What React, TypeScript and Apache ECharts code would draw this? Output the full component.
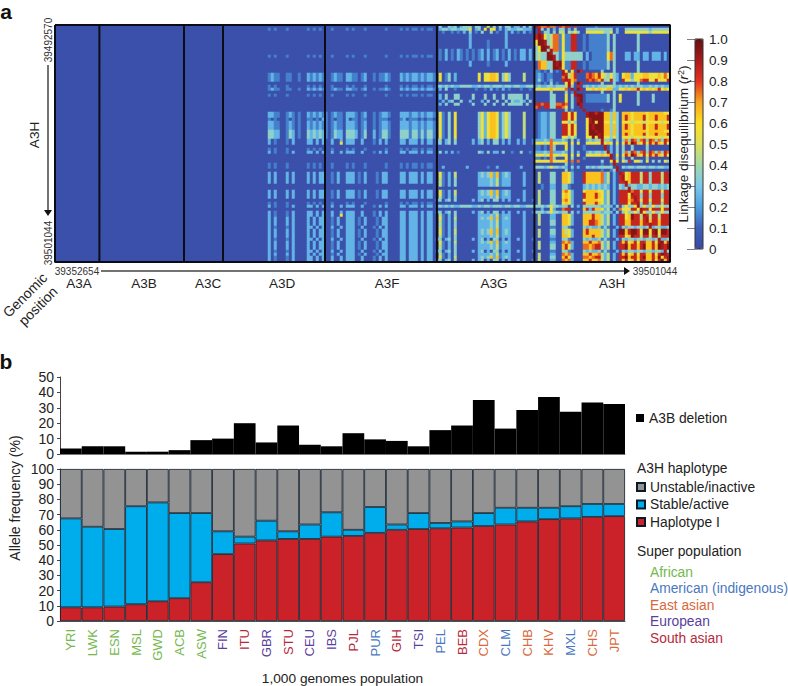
import React, { useEffect, useRef } from "react";
import * as echarts from "echarts";

const FONT = "'Liberation Sans', Arial, sans-serif";

// ---------- Panel a: LD heat map ----------
const LEFT_COLS = 70; // columns of A3A, A3B, A3C and the start of A3D, all near zero
const ROW_COUNT = 79;
const dLen = 57;
const gLen = 33;
const hLen = 45;

// cell codes: "." is near zero, a digit d is the class d/10 .. (d+1)/10
const dParts: Record<string, string> = {
  dz: "",
  dt: ".1.1. ..1.. ....1 .1.1. ..1.. ..1.1 ...1. ..... 1.... 1.1.1 1.1.1 1.",
  dw: ".1211 ..11. .1..2 12121 ..121 1.221 1.12. .1.11 21... 21212 21212 21",
  ds: ".2211 ..121 .1..2 12121 1.121 1.222 1.12. .1.12 21... 22212 21212 21",
  ds2: ".1.1. ..1.1 .1..1 1.1.2 1.1.1 1.2.1 1.11. .1.11 1.... 12.11 1.1.1 1.",
  db: ".3322 ..132 .1..3 23232 1.132 2.333 2.13. .2.13 31... 33313 31313 31",
  dp: ".2.1. ..1.2 ....2 2.2.2 ..2.. 2.222 ..2.. .1.2. 2.... 22.22 2.2.2 2.",
  dy: ".2.1. ..1.2 ....2 2.2.2 ..2.. 5.222 ..2.. .1.2. 2.... 22.22 2.2.2 2.",
  dl: ".2.2. ..2.2 ....2 .2.22 ..1.2 ..222 .1.2. ..1.2 2.... 22.22 2.2.2 2.",
};
const gParts: Record<string, string> = {
  gz: "",
  gt0: ".3..3 23.23 33.33 ..5.3 .3.33 .22.3 .3.",
  gt1: ".2332 33233 35.23 .5.55 .2.23 22332 22.",
  gt2: "..1.. 1.1.2 .3.1. 3..3. 1..2. 2.1.2 .1.",
  gc: "..... ..... .2... ..... ...2. ..... ...",
  gc2: "..... ..... .2... ..1.. ...2. ..... ...",
  gf: ".1.2. 1.21. 1.1.1 2.2.1 2.1.2 .1.22 .2.",
  gy: ".5.13 .2... ....5 .5566 5.353 ....4 ...",
  gh: "23232 32233 33223 23323 33233 23322 333",
  gz2: ".2.3. .1... ...1. .1.2. 1.2.1 ...1. .1.",
  gb: ".2.3. .33.. ..3.. .3..3 ..3.3 3333. 3..",
  gb2: "..2.2 3..3. .2... 2.3.. 3..3. 32232 .3.",
  gs: ".51.3 .5... ....3 52566 51353 ....4 ...",
  gp: "23.23 .3... ..2.2 3.2.3 3.2.2 ..2.2 ..1",
  gp2: ".3.2. 2.1.. ....3 2.3.2 2.3.. 1..3. .1.",
  gq: "..2.. ..... 2.... ..1.. 2.... ...2. ...",
  gl: ".51.2 .4... ....2 32362 61232 ....2 ...",
  gm: ".41.2 .3... ....2 22232 41222 ....2 ...",
};
const hParts: Record<string, string> = {
  h0: "88778 77.87 88.8. ..... 1.... ..... ..... ..... .....",
  hp: "..3.3 .2.33 .2.3. ..333 33333 3.2.. 33333 33323 33333",
  hy: ".3.33 .3.44 .4353 ..555 55533 5.2.. 55555 55535 55555",
  a1: "89853 47715 1188. .1.11 11113 .3... ....3 ..... .....",
  a2: "59983 47715 1188. .1.11 11113 .3... ....3 ..... .....",
  a3: "35993 47715 1188. .1.11 11113 .3... ....3 ..... .....",
  c: "34339 93315 33333 3.2.1 11115 73... 22.22 .22.2 22.2.",
  d1: ".7663 39995 1188. .1.11 11113 .3... ....3 ..... .....",
  b1: "11.1. 3.1.. 5.5.9 8.... ..3.. .3... ....3 ..... .....",
  e1: "121.1 1...7 8468. ..787 68543 532.5 66255 56655 56575",
  e2: "131.1 2...8 7867. ..878 76834 832.8 55355 78855 85558",
  f1: "23223 32333 4.3.8 .2323 23334 43232 32323 32232 32322",
  f2: "55555 65555 7.5.9 8.556 56556 62255 65668 56565 68565",
  b2: "..... 3.... 3.1.. ..... ..3.. .3... ....3 ..... .....",
  g1: "..... 33... 5.3.9 9.111 11113 .3.5. ....3 ....3 .....",
  g2: "88788 33778 7.3.9 9.... ..... .3... ....3 ..... .....",
  g3: "78.88 33887 5.3.. 9.... ..... .3... ..... ..... .....",
  gap: "..... ..... 3.1.. ..... ..1.. 13... ..... ..... .....",
  k1a: ".1221 33..8 8585. ..599 89966 363.6 66566 66566 66655",
  k2a: ".1221 33..5 5353. ..559 59955 353.5 55455 54555 55455",
  k3a: ".1221 33..8 8585. ..599 99966 363.6 86566 68566 86668",
  i1: "22232 72223 2.3.2 ..232 33233 2.3.3 73873 78387 37387",
  i2: "55545 75545 5.5.5 ..555 55656 5.5.5 86986 58586 86585",
  i3: "33323 53323 2.3.2 ..323 23333 3.8.3 23323 33233 23322",
  i4: "11.1. 73... 5.3.. .1... ..... 2.3.3 ..3.. ..3.. .....",
  i5: "55555 75555 6.7.7 ..... ..3.. 5.5.5 38.55 3.5.3 .3.53",
  j1: ".4... 33..6 652.. .8666 66724 .2.88 56888 48838 88488",
  j2: "..1.. 22..3 31... .2323 23232 .2.32 32332 23323 32323",
  k1: ".4... 33..6 752.. .5666 65524 .2.88 86788 58858 88588",
  k2: ".4... 33..5 652.. .8666 86524 .2.88 85888 38838 88388",
  l1: "33323 53323 3.3.2 .3333 33233 2.3.3 53353 35335 33533",
  l2: "..2.. 52..7 88... .6828 66524 .2.75 55885 88858 88588",
  m1: ".4... 22..6 652.. .6668 66424 .2.88 56988 48848 84888",
  m2: ".4... 33..6 652.. .6688 76424 .2.88 66888 68868 86888",
  m3: ".4... 33..6 452.. .6866 66424 .2.99 68998 59958 95998",
  n1: ".4... 22..7 672.. .6686 67424 .2.86 85685 88668 58968",
  n2: ".4... 33..6 852.. .7767 88424 .2.88 96886 89668 69589",
  r: "..... 11..3 31... .3232 23131 ..2.3 23323 32332 33223",
};

// one entry per heat map row, top to bottom
const rowKeys = [
  "dz gt0 h0", "dt gt1 hp", "dz gt2 hy", "dz gc a1", "dz gc a1", "dz gc2 a2", "dz gc2 a2", "dz gc2 a3",
  "dz gf a3", "dz gf c", "dt gf c", "dz gf c", "dz gc2 d1", "dz gc2 d1", "dz gz d1", "dz gz b1",
  "dw gy e1", "dw gy e1", "dw gy e2", "dz gz b1", "dt gh f1", "dw gz2 f2", "dz gz b2", "dt gb g1",
  "dz gb g1", "dz gb2 g1", "dz gb g2", "dz gz g3", "dz gz gap", "ds gs k1a", "ds gs k3a", "ds2 gs k3a",
  "ds gs k2a", "ds gs k3a", "ds gs k3a", "db gs k1a", "db gs k3a", "db gs k2a", "dp gp i1", "dy gp i2",
  "dz gz i4", "dt gz i4", "dp gp2 i1", "dz gz i2", "dz gz i4", "dz gz i5", "dt gz gap", "dt gq i3",
  "dz gz gap", "dl gl j1", "dl gl j1", "dl gm j1", "dl gm j1", "dz gm j2", "dz gz j2", "dl gl k1",
  "dl gl k2", "dl gm k2", "dz gp k1", "dt gz k2", "dp gh l1", "dz gz l2", "dp gp l1", "dy gm m1",
  "dl gl m1", "dl gm m2", "dl gm m2", "dp gm r", "dl gl m3", "dl gl m3", "dl gm m1", "dp gp r",
  "dl gl n1", "dl gm n2", "dl gm n2", "dp gp r", "dl gm n1", "dp gl n2", "dp gp n1",
];

// the A3H self-comparison diagonal: A3H column reached by each row
const diagonalCols = [
  0, 1, 1, 2, 2, 3, 3, 4, 5, 5, 6, 6, 7, 7, 8, 9, 9, 10, 10, 11, 11, 12, 13, 13, 14, 14, 15, 15, 16, 17, 17, 18, 18, 19,
  19, 20, 21, 21, 22, 22, 23, 23, 24, 25, 25, 26, 26, 27, 27, 28, 29, 29, 30, 30, 31, 31, 32, 33, 33, 34, 34, 35, 35, 36,
  37, 37, 38, 38, 39, 39, 40, 41, 41, 42, 42, 43, 43, 44, 44,
];

const sectionEdges = [14.8, 43, 56, 90, 127.3, 159.8];
const ldColors = [
  "#3a4aa4", "#3d5fb8", "#4aa0e0", "#7cc8ec", "#a2d8a8", "#dce05a",
  "#fce020", "#f8a41e", "#e23222", "#a81a1c", "#661012",
];
const geneLabels = [
  ["A3A", 79], ["A3B", 144], ["A3C", 208], ["A3D", 282], ["A3F", 387], ["A3G", 494], ["A3H", 612],
] as [string, number][];

// ---------- Panel b ----------
const populations = [
  "YRI", "LWK", "ESN", "MSL", "GWD", "ACB", "ASW", "FIN", "ITU", "GBR", "STU", "CEU", "IBS",
  "PJL", "PUR", "GIH", "TSI", "PEL", "BEB", "CDX", "CLM", "CHB", "KHV", "MXL", "CHS", "JPT",
];
const superPop = [
  "African", "African", "African", "African", "African", "African", "African", "European", "South asian",
  "European", "South asian", "European", "European", "South asian", "American (indigenous)", "South asian",
  "European", "American (indigenous)", "South asian", "East asian", "American (indigenous)", "East asian",
  "East asian", "American (indigenous)", "East asian", "East asian",
];
const superColors: Record<string, string> = {
  African: "#74b84e",
  "American (indigenous)": "#4a78bf",
  "East asian": "#d8693c",
  European: "#5a3f9c",
  "South asian": "#b62a3c",
};
const deletion = [3.5, 5, 5, 1.5, 1.5, 2.5, 9, 10, 20, 7.5, 18.5, 6, 5, 13.5, 9.5, 8.5, 5, 15.5, 18.5, 35, 16.5, 28.5, 37, 27.5, 33.5, 32.5];
const haplotypeI = [9, 9, 9.5, 11, 13, 15, 25.5, 44, 51, 53, 54, 54, 55.5, 56, 58, 60, 60.5, 61, 61.5, 62.5, 63.5, 65.5, 67, 67.5, 68.5, 69];
const stableActive = [58.5, 53, 51, 64.5, 65, 56, 45.5, 15, 4.5, 13, 5, 9.5, 16, 4, 17, 3.5, 10.5, 3.5, 4, 8.5, 11, 9, 7.5, 8, 8.5, 8];
const unstableInactive = [32.5, 38, 39.5, 24.5, 22, 29, 29, 41, 44.5, 34, 41, 36.5, 28.5, 40, 25, 36.5, 29, 35.5, 34.5, 29, 25.5, 25.5, 25.5, 24.5, 23, 23];

const INK = "#222";

function parsePart(s: string, len: number) {
  return s.replace(/ /g, "").padEnd(len, ".").slice(0, len);
}
function codeValue(c: string) {
  return c === "." ? 0.03 : Number(c) / 10 + 0.05;
}
function buildCells() {
  const cols = LEFT_COLS + dLen + gLen + hLen;
  const out: [number, number, number][] = [];
  for (let r = 0; r < ROW_COUNT; r++) {
    const [d, g, h] = rowKeys[r].split(" ");
    const codes = parsePart(dParts[d], dLen) + parsePart(gParts[g], gLen) + parsePart(hParts[h], hLen);
    for (let c = 0; c < cols; c++) {
      const k = c - LEFT_COLS;
      let v = k < 0 ? 0.03 : codeValue(codes[k]);
      if (k - dLen - gLen === diagonalCols[r]) v = 0.9;
      out.push([c, r, v]);
    }
  }
  return { cols, out };
}

function txt(text: string, x: number, y: number, fontSize: number, extra: any = {}, style: any = {}) {
  return {
    type: "text", x, y, silent: true, ...extra,
    style: {
      text, fontSize, fontFamily: FONT, fill: INK,
      textAlign: "center", textVerticalAlign: "middle", ...style,
    },
  };
}
function seg(x1: number, y1: number, x2: number, y2: number) {
  return { type: "line", silent: true, shape: { x1, y1, x2, y2 }, style: { stroke: "#444", lineWidth: 1.5 } };
}
function tri(points: number[][]) {
  return { type: "polygon", silent: true, shape: { points }, style: { fill: "#111" } };
}

function buildOption() {
  const { cols, out } = buildCells();
  const colNames = Array.from({ length: cols }, (_, i) => String(i));
  const rowNames = Array.from({ length: ROW_COUNT }, (_, i) => String(i));
  const popData = populations.map((p, i) => ({ value: p, textStyle: { color: superColors[superPop[i]] } }));
  const barBase = { type: "bar", stack: "hap", xAxisIndex: 3, yAxisIndex: 3, barWidth: "100%", silent: true };
  const border = { borderColor: "#0c1a28", borderWidth: 0.8 };

  const frameData = [[0, 0], [cols, 0], [cols, ROW_COUNT], [0, ROW_COUNT], [0, 0]];
  const lineBase = {
    type: "line", xAxisIndex: 1, yAxisIndex: 1, symbol: "none", silent: true, clip: false, z: 6,
    lineStyle: { color: "#0c0c14", width: 2 },
  };

  const graphic: any[] = [
    txt("a", 6, 11, 21, {}, { fontWeight: "bold", fill: "#111" }),
    txt("b", 6, 361, 21, {}, { fontWeight: "bold", fill: "#111" }),
    txt("39492570", 48, 40, 10, { rotation: Math.PI / 2 }, { fill: "#333" }),
    txt("39501044", 48, 243, 10, { rotation: Math.PI / 2 }, { fill: "#333" }),
    txt("A3H", 34, 135, 13.5, { rotation: Math.PI / 2 }),
    seg(48, 65, 48, 210),
    tri([[44, 210], [52, 210], [48, 216]]),
    txt("39352654", 77, 271, 10, {}, { fill: "#333" }),
    txt("39501044", 655, 271, 10, {}, { fill: "#333" }),
    seg(101, 271, 625, 271),
    tri([[624, 267], [624, 275], [630, 271]]),
    txt("Genomic", 25, 295, 14, { rotation: Math.PI / 4 }),
    txt("position", 38, 306, 14, { rotation: Math.PI / 4 }),
    ...geneLabels.map(([g, x]) => txt(g, x, 283, 13.5)),
    {
      type: "text", x: 683, y: 144, rotation: Math.PI / 2, silent: true,
      style: {
        text: "Linkage disequilibrium ({i|r}{s|2})", fontSize: 13.6, fontFamily: FONT, fill: INK,
        textAlign: "center", textVerticalAlign: "middle",
        rich: {
          i: { fontStyle: "italic", fontSize: 13.6, fontFamily: FONT, fill: INK },
          s: { fontSize: 9, fontFamily: FONT, fill: INK, verticalAlign: "top", lineHeight: 14 },
        },
      },
    },
    { type: "rect", silent: true, z: 10, shape: { x: 695, y: 39, width: 8, height: 210 }, style: { fill: "none", stroke: "#333", lineWidth: 1 } },
    txt("Allele frequency (%)", 15, 498, 14, { rotation: Math.PI / 2 }),
    txt("A3H haplotype", 637, 468, 13.8, {}, { textAlign: "left" }),
    txt("Super population", 637, 551, 13.8, {}, { textAlign: "left" }),
    ...Object.keys(superColors).map((k, i) =>
      txt(k, 650, 572 + i * 16.6, 13.8, {}, { textAlign: "left", fill: superColors[k] })
    ),
  ];

  return {
    animation: false,
    backgroundColor: "#fff",
    textStyle: { fontFamily: FONT },
    graphic,
    visualMap: {
      type: "continuous", min: 0, max: 1, seriesIndex: 0, left: 695, top: 39, padding: 0,
      itemWidth: 8, itemHeight: 210, calculable: false, hoverLink: false, text: ["", ""],
      showLabel: false, inRange: { color: ldColors },
    },
    legend: [
      {
        data: ["A3B deletion"], left: 636, top: 411, padding: 0, itemWidth: 8, itemHeight: 8,
        selectedMode: false, icon: "rect", textStyle: { fontSize: 13.8, color: INK, fontFamily: FONT },
      },
      {
        data: ["Unstable/inactive", "Stable/active", "Haplotype I"], orient: "vertical", left: 636, top: 480,
        padding: 0, itemGap: 3.5, itemWidth: 8, itemHeight: 8, selectedMode: false, icon: "rect",
        textStyle: { fontSize: 13.8, color: INK, fontFamily: FONT },
      },
    ],
    grid: [
      { left: 55, top: 25, width: 615, height: 237 },
      { left: 60, top: 377, width: 565, height: 77 },
      { left: 60, top: 469, width: 565, height: 153 },
      { left: 695, top: 39, width: 8, height: 210 },
    ],
    xAxis: [
      { type: "category", gridIndex: 0, data: colNames, show: false },
      { type: "value", gridIndex: 0, min: 0, max: cols, show: false },
      { type: "category", gridIndex: 1, data: populations, axisLabel: { show: false }, axisTick: { show: false }, axisLine: { lineStyle: { color: "#777" } } },
      {
        type: "category", gridIndex: 2, data: popData,
        name: "1,000 genomes population", nameLocation: "middle", nameGap: 50,
        nameTextStyle: { fontSize: 13.7, color: INK, fontFamily: FONT },
        axisLine: { lineStyle: { color: "#555" } },
        axisTick: { length: 4, lineStyle: { color: "#444" } },
        axisLabel: { rotate: 90, fontSize: 13, margin: 8, interval: 0, fontFamily: FONT },
      },
      { type: "value", gridIndex: 3, show: false, min: 0, max: 1 },
    ],
    yAxis: [
      { type: "category", gridIndex: 0, data: rowNames, inverse: true, show: false },
      { type: "value", gridIndex: 0, min: 0, max: ROW_COUNT, inverse: true, show: false },
      {
        type: "value", gridIndex: 1, min: 0, max: 50, interval: 10, splitLine: { show: false },
        axisLine: { show: true, lineStyle: { color: "#444" } }, axisTick: { show: true, length: 3, lineStyle: { color: "#444" } },
        axisLabel: { fontSize: 14, color: INK, margin: 6, fontFamily: FONT },
      },
      {
        type: "value", gridIndex: 2, min: 0, max: 100, interval: 10, splitLine: { show: false },
        axisLine: { show: true, lineStyle: { color: "#444" } }, axisTick: { show: true, length: 3, lineStyle: { color: "#444" } },
        axisLabel: { fontSize: 14, color: INK, margin: 6, fontFamily: FONT },
      },
      {
        type: "value", gridIndex: 3, position: "right", min: 0, max: 1, interval: 0.1, splitLine: { show: false },
        axisLine: { show: false }, axisTick: { show: true, inside: true, length: 8, lineStyle: { color: "rgba(20,20,30,0.55)" } },
        axisLabel: {
          fontSize: 13.5, color: INK, margin: 6, fontFamily: FONT,
          formatter: (v: number) => (v === 0 ? "0" : v.toFixed(1)),
        },
      },
    ],
    series: [
      {
        type: "heatmap", xAxisIndex: 0, yAxisIndex: 0, data: out, progressive: 0, silent: true,
        emphasis: { disabled: true }, itemStyle: { borderWidth: 0 },
      },
      { ...lineBase, name: "frame", data: frameData },
      ...sectionEdges.map((x, i) => ({ ...lineBase, name: "edge" + i, data: [[x, 0], [x, ROW_COUNT]] })),
      {
        name: "A3B deletion", type: "bar", xAxisIndex: 2, yAxisIndex: 2, barWidth: "100%", silent: true,
        data: deletion, itemStyle: { color: "#000" },
      },
      { ...barBase, name: "Haplotype I", data: haplotypeI, itemStyle: { color: "#cb2229", ...border } },
      { ...barBase, name: "Stable/active", data: stableActive, itemStyle: { color: "#00adec", ...border } },
      { ...barBase, name: "Unstable/inactive", data: unstableInactive, itemStyle: { color: "#939393", ...border } },
      { type: "line", xAxisIndex: 4, yAxisIndex: 4, data: [], silent: true, symbol: "none" },
    ],
  };
}

export default function App() {
  const ref = useRef<HTMLDivElement>(null);
  useEffect(() => {
    document.body.style.margin = "0";
    const chart = echarts.init(ref.current!, undefined, { renderer: "svg" });
    chart.setOption(buildOption() as any);
    return () => chart.dispose();
  }, []);
  return <div ref={ref} style={{ width: 788, height: 686 }} />;
}
